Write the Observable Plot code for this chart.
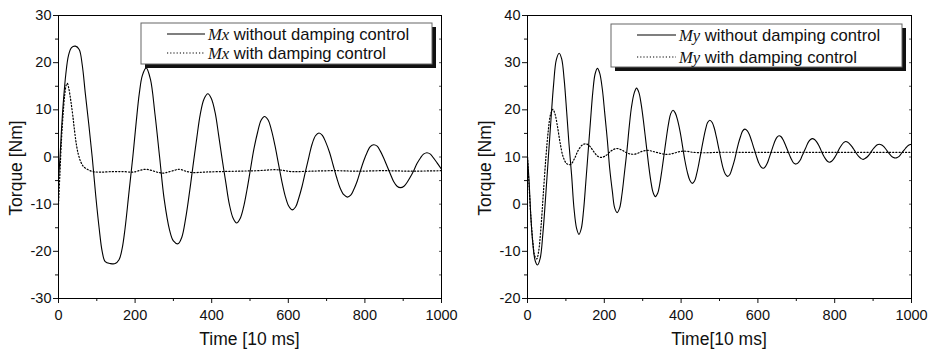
<!DOCTYPE html>
<html>
<head>
<meta charset="utf-8">
<script src="https://cdn.jsdelivr.net/npm/d3@7"></script>
<script src="https://cdn.jsdelivr.net/npm/@observablehq/plot@0.6"></script>
<style>
  body { margin: 0; background: #fff; }
  #wrap { display: flex; width: 933px; height: 354px; }
</style>
</head>
<body>
<div id="wrap"></div>
<script>
// ---- Tick values ----
const xMajor = [0, 200, 400, 600, 800, 1000];
const xMinor = [100, 300, 500, 700, 900];
const yMajorLeft = [-30, -20, -10, 0, 10, 20, 30];
const yMinorLeft = [-25, -15, -5, 5, 15, 25];
const yMajorRight = [-20, -10, 0, 10, 20, 30, 40];
const yMinorRight = [-15, -5, 5, 15, 25, 35];

// ---- Labels ----
const xTitleLeft = "Time [10 ms]";
const xTitleRight = "Time[10 ms]";
const yTitle = "Torque [Nm]";
const legendLeft = ["Mx", " without damping control", " with damping control"];
const legendRight = ["My", " without damping control", " with damping control"];

// ---- Data: Mx without damping control [time, torque] ----
const mxWithout = [
  [0,-4.6],[4,0],[8,6],[13,12],[19,17.5],[26,21.5],[34,23.2],[44,23.5],
  [54,22.8],[62,19.5],[70,13.5],[79,7],[88,0],[97,-8],[106,-15],[114,-20],[122,-22.2],[136,-22.6],
  [148,-22.6],[158,-21.8],[166,-19.5],[174,-15],[184,-7.5],[194,0],[203,7.5],[211,13.5],[219,17.3],[229,18.9],
  [240,16.5],[252,9],[264,0],[276,-9],[290,-15.5],[300,-17.8],[312,-18.4],
  [322,-17],[332,-13],[342,-7.5],[351,-2],[361,4],[370,9],[380,12.3],[390,13.4],
  [399,12.4],[409,9.4],[418,4.7],[427,-0.3],[437,-5.5],[446,-10],[456,-13],[465,-14],
  [474,-13.1],[483,-10.7],[492,-7],[501,-2.7],[510,1.6],[520,5.3],[529,7.8],[538,8.6],
  [547,7.9],[556,5.7],[565,2.5],[574,-1.3],[583,-5.1],[592,-8.3],[601,-10.4],[610,-11.2],
  [619,-10.6],[627,-8.8],[636,-6.2],[645,-3],[654,0.1],[662,2.7],[671,4.5],[680,5.1],
  [689,4.6],[698,3.1],[708,0.9],[717,-1.7],[726,-4.3],[735,-6.5],[745,-8],[754,-8.5],
  [763,-8.1],[771,-6.9],[780,-5.1],[788,-3],[797,-0.8],[806,1],[814,2.2],[823,2.6],
  [832,2.3],[840,1.3],[849,-0.2],[858,-1.95],[867,-3.7],[875,-5.2],[884,-6.2],[893,-6.5],
  [902,-6.2],[910,-5.4],[919,-4.2],[928,-2.8],[936,-1.4],[945,-0.2],[953,0.6],[962,0.9],
  [971,0.6],[979,-0.2],[988,-1.2],[1000,-2.6]
];
// ---- Data: Mx with damping control ----
const mxWith = [
  [0,-10],[4,-3],[8,4],[12,9],[16,13],[20,15.2],[23,15.6],[27,14.5],[32,12],[37,9],[42,5.5],
  [47,2.5],[52,0.5],[58,-1],[65,-2],[75,-2.6],[90,-3.1],[110,-3.2],[140,-3.1],[170,-3.1],
  [195,-3.2],[210,-2.9],[228,-2.6],[245,-2.9],[262,-3.3],[275,-3.4],[295,-3],[316,-2.6],
  [332,-3.0],[350,-3.3],[380,-3.2],[420,-3.1],[470,-3.0],[520,-2.9],[570,-2.7],[610,-3.1],
  [660,-3.0],[720,-2.9],[780,-3.0],[850,-2.9],[920,-3.0],[1000,-2.9]
];
// ---- Data: My without damping control ----
const myWithout = [
  [0,10],[4,5],[9,-3],[14,-8.5],[20,-12],[26,-12.9],
  [33,-11.5],[40,-6.3],[47,1.3],[54,9.55],[61,17.8],[68,25.4],[75,30.6],[82.5,32],
  [89,30.8],[95.5,26.4],[102,19.6],[108,12.8],[115,6],[121,-0.8],[128,-5.2],[134,-6.4],
  [140,-5.2],[146,-1.3],[152,4.8],[158,11.2],[164,17.6],[170,23.7],[176,27.6],[182,28.8],
  [188,27.8],[195,24.3],[201,19.4],[208,13.5],[214,7.6],[221,2.7],[227,-0.8],[233.5,-1.8],
  [240,-0.8],[246,2.1],[252,6.3],[259,11.4],[265,16.5],[271,20.7],[278,23.6],[284,24.6],
  [290,23.7],[296,21.2],[302,17.6],[308.5,13.1],[315,8.6],[321,5],[327,2.5],[333,1.6],
  [339,2.3],[344.5,4.3],[350,7.2],[356,10.75],[362,14.3],[367.5,17.2],[373,19.2],[379,19.9],
  [385,19.3],[391.5,17.6],[398,15.1],[404,12.15],[410,9.2],[416.5,6.7],[423,5],[429,4.4],
  [435,4.9],[440.5,6.4],[446,8.5],[452,11.1],[458,13.7],[463.5,15.8],[469,17.3],[475,17.8],
  [481,17.3],[486.5,16.1],[492,14.2],[498,11.85],[504,9.5],[509.5,7.6],[515,6.4],[521,5.9],
  [527,6.3],[532,7.4],[538,9],[543.5,10.9],[549,12.8],[555,14.4],[560,15.5],[566,15.9],
  [572,15.6],[578,14.7],[584,13.3],[590,11.75],[596,10.2],[602,8.8],[608,7.9],[614,7.6],
  [619,7.9],[624,8.6],[629,9.7],[634.5,11.05],[640,12.4],[645,13.5],[650,14.2],[655,14.5],
  [660.5,14.3],[666,13.6],[671.5,12.6],[677,11.5],[682.5,10.4],[688,9.4],[693.5,8.7],[699,8.5],
  [704,8.7],[710,9.3],[715,10.2],[720.5,11.2],[726,12.2],[731,13.1],[737,13.7],[742,13.9],
  [747.5,13.7],[753,13.2],[759,12.4],[764.5,11.4],[770,10.4],[776,9.6],[781,9.1],[787,8.9],
  [792,9.1],[797.5,9.6],[803,10.3],[808,11.1],[813,11.9],[818.5,12.6],[824,13.1],[829,13.3],
  [834.5,13.1],[840,12.7],[846,12.1],[851.5,11.4],[857,10.7],[863,10.1],[868,9.7],[874,9.5],
  [879,9.7],[884.5,10],[890,10.5],[895,11.1],[900,11.7],[905.5,12.2],[911,12.6],[916,12.7],
  [921,12.6],[926.5,12.3],[932,11.8],[937,11.25],[942,10.7],[947.5,10.2],[953,9.9],[958,9.8],
  [963,9.9],[968.5,10.2],[974,10.8],[979,11.3],[984,11.8],[989.5,12.3],[995,12.6],[1000,12.7]
];
// ---- Data: My with damping control ----
const myWith = [
  [0,10],[4,4],[9,-3],[14,-8],[19,-11],[24,-11.6],[29,-10],[35,-5],[41,2],[48,10],[54,15.5],
  [60,19],[66,20.1],[72,19],[78,16.5],[85,13],[93,10],[102,8.6],[112,8.4],[122,9.6],[132,11.4],
  [142,12.5],[152,12.8],[162,12.3],[172,11.2],[182,10.2],[192,9.9],[204,10.3],[218,11.3],
  [232,11.8],[245,11.5],[258,10.9],[270,10.6],[284,10.7],[298,11.2],[312,11.4],[326,11.2],
  [340,10.9],[355,10.6],[370,10.6],[385,10.9],[400,11.2],[415,11.2],[430,11.0],[460,10.9],
  [500,11.0],[560,11.0],[620,11.0],[700,11.0],[800,11.0],[900,11.0],[1000,11.0]
];

const fmt = d => String(d);

function panel(cfg) {
  const W = cfg.width, H = 354;
  const svg = Plot.plot({
    width: W, height: H,
    marginLeft: cfg.ml, marginRight: cfg.mr, marginTop: 15, marginBottom: 56,
    style: {fontFamily: "'Liberation Sans', Arial, sans-serif", fontSize: "14.5px", color: "#111", background: "#fff", overflow: "visible"},
    x: {domain: [0, 1000], label: null},
    y: {domain: cfg.ydomain, label: null},
    marks: [
      Plot.axisX(xMajor, {tickSize: 5, tickPadding: 6, label: null, fontSize: 14.5, tickFormat: fmt}),
      Plot.axisX(xMinor, {tickSize: 3, tickFormat: () => "", label: null}),
      Plot.axisY(cfg.yMajor, {tickSize: 5, tickPadding: 2, label: null, fontSize: 14.5, tickFormat: fmt}),
      Plot.axisY(cfg.yMinor, {tickSize: 3, tickFormat: () => "", label: null}),
      Plot.axisY(cfg.yMajor.concat(cfg.yMinor), {anchor: "right", tickSize: -3, tickFormat: () => "", label: null, stroke: "#555"}),
      Plot.line(cfg.solid, {x: d => d[0], y: d => d[1], stroke: "#000", strokeWidth: 1.1, curve: "catmull-rom"}),
      Plot.line(cfg.dotted, {x: d => d[0], y: d => d[1], stroke: "#000", strokeWidth: 1.2, strokeDasharray: "1.2,2", curve: "catmull-rom"}),
      Plot.frame({stroke: "#000", strokeWidth: 1})
    ]
  });
  const s = d3.select(svg);
  const serif = "'Liberation Serif', 'Times New Roman', serif";
  // legend
  const L = cfg.legend;
  s.append("rect").attr("x", L.x + 4).attr("y", L.y + 4).attr("width", L.w).attr("height", L.h).attr("fill", "#111");
  s.append("rect").attr("x", L.x).attr("y", L.y).attr("width", L.w).attr("height", L.h).attr("fill", "#fff").attr("stroke", "#666").attr("stroke-width", 1);
  const rows = [[cfg.labels[1], null, L.r1], [cfg.labels[2], "1.2,2", L.r2]];
  rows.forEach(([txt, dash, yy]) => {
    const ln = s.append("line").attr("x1", L.lx1).attr("x2", L.lx2).attr("y1", yy).attr("y2", yy).attr("stroke", "#000").attr("stroke-width", 1.1);
    if (dash) ln.attr("stroke-dasharray", dash);
    const t = s.append("text").attr("x", L.tx).attr("y", yy + 5.5).attr("font-size", 16.6).attr("fill", "#111").attr("text-anchor", "start");
    t.append("tspan").attr("font-family", serif).attr("font-style", "italic").text(cfg.labels[0]);
    t.append("tspan").attr("font-family", "'Liberation Sans', Arial, sans-serif").text(txt);
  });
  // axis titles
  s.append("text").attr("x", (cfg.ml + W - cfg.mr) / 2).attr("y", 345).attr("text-anchor", "middle")
    .attr("font-size", 17.5).attr("fill", "#111").text(cfg.xTitle);
  s.append("text").attr("transform", `translate(${cfg.ytx},168) rotate(-90)`).attr("text-anchor", "middle")
    .attr("dy", "0.35em").attr("font-size", 17.5).attr("fill", "#111").text(yTitle);
  return svg;
}

const wrap = document.getElementById("wrap");
wrap.appendChild(panel({
  width: 466, ml: 58, mr: 25, ydomain: [-30, 30], yMajor: yMajorLeft, yMinor: yMinorLeft,
  solid: mxWithout, dotted: mxWith, labels: legendLeft, xTitle: xTitleLeft, ytx: 16,
  legend: {x: 141, y: 23, w: 291, h: 41, lx1: 167, lx2: 205, tx: 208, r1: 34, r2: 53}
}));
wrap.appendChild(panel({
  width: 467, ml: 61, mr: 22, ydomain: [-20, 40], yMajor: yMajorRight, yMinor: yMinorRight,
  solid: myWithout, dotted: myWith, labels: legendRight, xTitle: xTitleRight, ytx: 19,
  legend: {x: 145, y: 24, w: 291, h: 43, lx1: 171, lx2: 210, tx: 213, r1: 35, r2: 57}
}));
</script>
</body>
</html>
